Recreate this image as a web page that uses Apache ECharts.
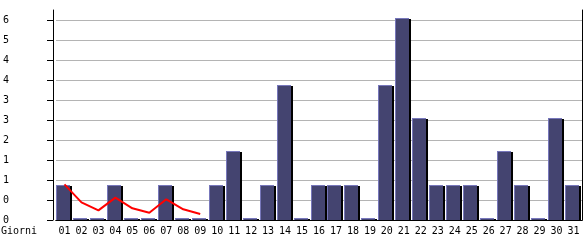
<!DOCTYPE html>
<html>
<head>
<meta charset="utf-8">
<script src="https://cdn.jsdelivr.net/npm/echarts@6/dist/echarts.min.js"></script>
<style>html,body{margin:0;padding:0;background:#fff}#c{width:585px;height:240px}</style>
</head>
<body>
<div id="c"></div>
<script>
// Days of the month (categories)
const days = ['01','02','03','04','05','06','07','08','09','10','11','12','13','14','15','16','17','18','19','20','21','22','23','24','25','26','27','28','29','30','31'];
// Daily values (bars)
const dailyValues = [1,0,0,1,0,0,1,0,0,1,2,0,1,4,0,1,1,1,0,4,6,3,1,1,1,0,2,1,0,3,1];
// Red trend line (days 01-09 only)
const trendValues = [1.07,0.53,0.29,0.67,0.35,0.22,0.62,0.32,0.18];
// Y tick positions and their printed labels
const yTickValues = [0,0.6,1.2,1.8,2.4,3.0,3.6,4.2,4.8,5.4,6.0];
const yTickLabels = ['0','0','1','1','2','3','3','4','4','5','6'];

const FONT = 'DejaVu Sans Mono';
const chart = echarts.init(document.getElementById('c'), null, {renderer:'canvas'});

function renderBar(params, api) {
  const i = api.value(0), v = api.value(1);
  const base = api.coord([i, 0]);
  const top = api.coord([i, v]);
  const w = api.size([1, 0])[0];
  const L = Math.round(base[0] - w / 2);
  const yBot = Math.round(base[1]);
  const yTop = Math.round(top[1]) - 2;
  const h = yBot - yTop;
  return {
    type: 'group',
    children: [
      {type:'rect', shape:{x:L+14, y:yTop+1, width:2, height:h-1}, style:{fill:'#000'}},
      {type:'rect', shape:{x:L, y:yTop, width:14, height:h}, style:{fill:'#7777bb'}},
      {type:'rect', shape:{x:L+1, y:yTop+1, width:13, height:Math.max(h-1,0)}, style:{fill:'#444470'}}
    ]
  };
}

chart.setOption({
  animation: false,
  title: {text:'Giorni', left:1, top:226, padding:0,
          textStyle:{fontFamily:FONT, fontSize:10, fontWeight:'normal', color:'#000'}},
  grid: {left:55, right:3, top:10, bottom:20, containLabel:false},
  xAxis: [{
    type:'category', data:days, boundaryGap:true,
    axisLine:{lineStyle:{color:'#000', width:1}},
    axisTick:{alignWithLabel:true, interval:0, length:5, lineStyle:{color:'#000'}},
    axisLabel:{interval:0, fontFamily:FONT, fontSize:10, color:'#000', margin:6},
    splitLine:{show:false}
  },{
    type:'category', data:days, position:'top', boundaryGap:true,
    axisLine:{lineStyle:{color:'#000', width:1}},
    axisTick:{show:false}, axisLabel:{show:false}, splitLine:{show:false}
  }],
  yAxis: [{
    type:'value', min:0, max:6.3, interval:0.6, offset:3,
    axisLine:{show:true, lineStyle:{color:'#000', width:1}},
    axisTick:{show:true, length:6, lineStyle:{color:'#000'}, customValues:yTickValues},
    axisLabel:{customValues:yTickValues, align:'left', margin:50, fontFamily:FONT, fontSize:10, color:'#000',
      formatter:function(v){ const k = Math.round(v/0.6); return yTickLabels[k] !== undefined ? yTickLabels[k] : ''; }},
    splitLine:{show:true, lineStyle:{color:'#b4b4b4', width:1}}
  },{
    type:'value', min:0, max:6.3, position:'right',
    axisLine:{show:true, lineStyle:{color:'#000', width:1}},
    axisTick:{show:false}, axisLabel:{show:false}, splitLine:{show:false}
  }],
  series: [{
    type:'custom', renderItem:renderBar,
    data: dailyValues.map((v,i)=>[i,v]),
    encode:{x:0, y:1}, z:2
  },{
    type:'line', data:trendValues, symbol:'none', smooth:false,
    lineStyle:{color:'#ff0000', width:2}, z:5
  }]
});
</script>
</body>
</html>
